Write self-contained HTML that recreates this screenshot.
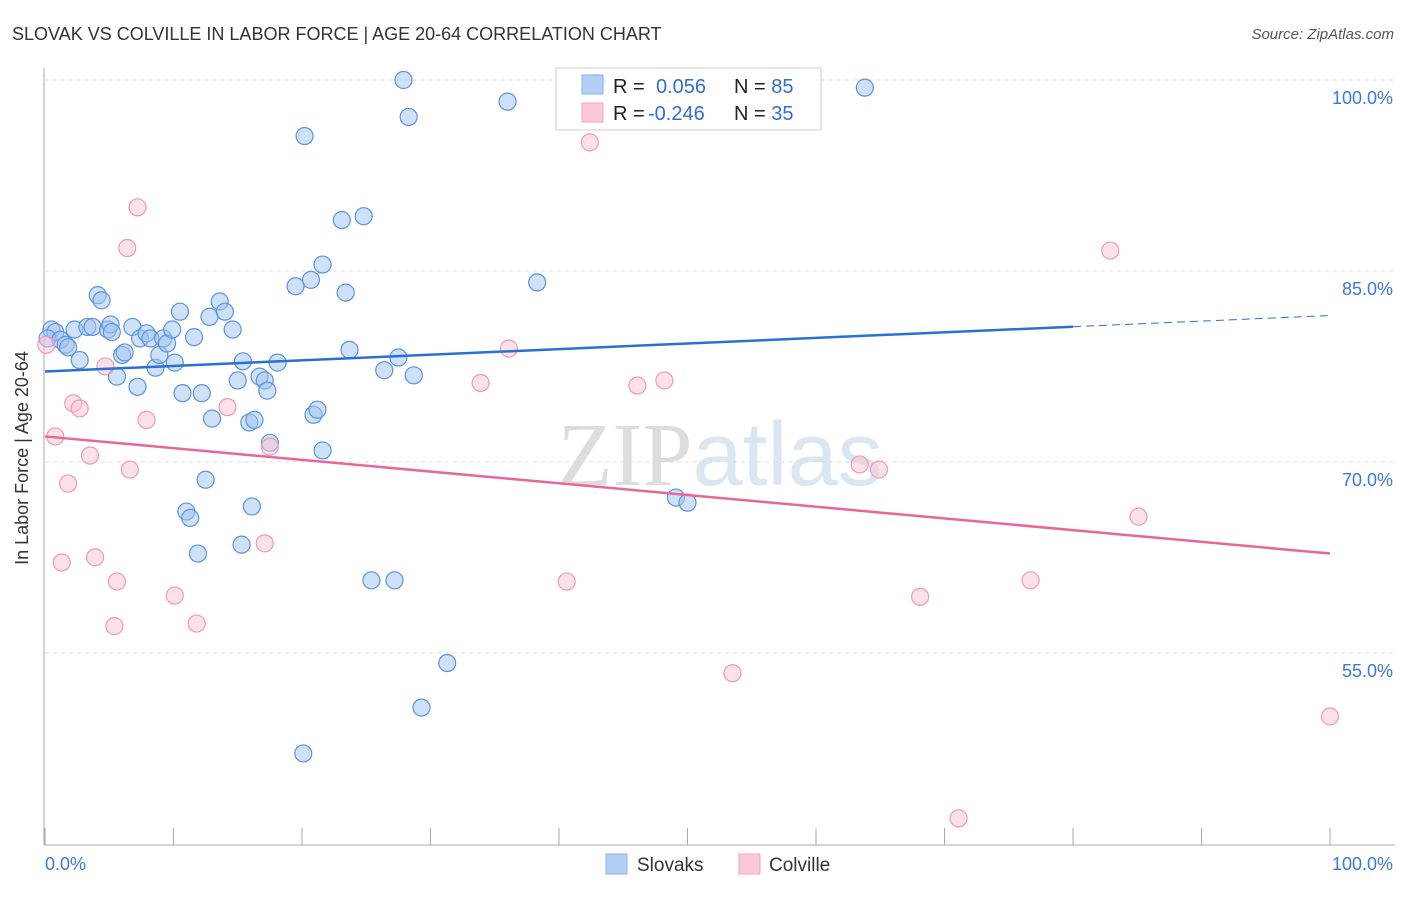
<!DOCTYPE html>
<html><head><meta charset="utf-8"><style>
body{margin:0;background:#fff;font-family:"Liberation Sans",sans-serif;}
svg text{font-family:"Liberation Sans",sans-serif;}
</style></head><body>
<svg id="chart" width="1406" height="892" xmlns="http://www.w3.org/2000/svg">
<text x="12" y="40" font-size="18" fill="#333">SLOVAK VS COLVILLE IN LABOR FORCE | AGE 20-64 CORRELATION CHART</text>
<text x="1394" y="39" font-size="15" fill="#555" font-style="italic" text-anchor="end">Source: ZipAtlas.com</text>
<text x="720" y="485" font-size="90" fill="#e4e4e4" text-anchor="middle"><tspan font-family="Liberation Serif" fill="#ddd">ZIP</tspan><tspan fill="#dbe6f3">atlas</tspan></text>
<g id="grid"></g>
<g id="axes"></g>
<g id="pts"></g>
<g id="trend"></g>
<text x="28" y="458" font-size="18" fill="#333" text-anchor="middle" transform="rotate(-90 28 458)">In Labor Force | Age 20-64</text>
<g>
<rect x="556" y="68" width="265" height="62" fill="#fff" fill-opacity="0.85" stroke="#ccc"/>
<rect x="582" y="75" width="21" height="19" fill="#b3cff5" stroke="#8ab2ea"/>
<rect x="582" y="103" width="21" height="19" fill="#fbc8d8" stroke="#f2a6bf"/>
<text x="613" y="93" font-size="20" fill="#222">R = <tspan x="656" fill="#2f6fd0">0.056</tspan></text>
<text x="734" y="93" font-size="20" fill="#222">N = <tspan fill="#2f6fd0">85</tspan></text>
<text x="613" y="120" font-size="20" fill="#222">R = <tspan x="648" fill="#2f6fd0">-0.246</tspan></text>
<text x="734" y="120" font-size="20" fill="#222">N = <tspan fill="#2f6fd0">35</tspan></text>
</g>
<g>
<rect x="606" y="854" width="21" height="20" fill="#b3cff5" stroke="#8ab2ea"/>
<text x="637" y="871" font-size="19" fill="#333">Slovaks</text>
<rect x="739" y="854" width="21" height="20" fill="#fbc8d8" stroke="#f2a6bf"/>
<text x="769" y="871" font-size="19" fill="#333">Colville</text>
</g>
</svg>
<script>
const blueX=[0.5,0.8,0.2,1.2,1.6,1.8,2.3,2.7,3.3,3.7,4.1,4.4,4.9,5.1,5.2,5.6,6.0,6.2,6.8,7.2,7.4,7.9,8.2,8.6,8.9,9.2,9.5,9.9,10.1,10.5,10.7,11.0,11.3,11.6,11.9,12.2,12.5,12.8,13.0,13.6,14.0,14.6,15.0,15.3,15.4,15.9,16.1,16.3,16.7,17.1,17.3,17.5,18.1,19.5,20.2,20.7,20.9,21.2,21.6,21.6,23.1,23.4,23.7,24.8,25.4,26.4,27.2,27.5,27.9,28.3,28.7,29.3,31.3,36.0,38.3,42.9,49.1,50.0,63.8,20.1];
const blueY=[80.4,80.2,79.7,79.6,79.2,79.0,80.4,78.0,80.6,80.6,83.1,82.7,80.4,80.8,80.2,76.7,78.4,78.6,80.6,75.9,79.7,80.1,79.7,77.4,78.4,79.7,79.3,80.4,77.8,81.8,75.4,66.1,65.6,79.8,62.8,75.4,68.6,81.4,73.4,82.6,81.8,80.4,76.4,63.5,77.9,73.1,66.5,73.3,76.7,76.4,75.6,71.5,77.8,83.8,95.6,84.3,73.7,74.1,70.9,85.5,89.0,83.3,78.8,89.3,60.7,77.2,60.7,78.2,100.0,97.1,76.8,50.7,54.2,98.3,84.1,99.8,67.2,66.8,99.4,47.1];
const pinkX=[0.1,0.8,1.3,1.8,2.2,2.7,3.5,3.9,4.7,5.4,5.6,6.4,6.6,7.2,7.9,10.1,11.8,14.2,17.1,17.5,33.9,36.1,40.6,42.4,46.1,48.2,53.5,63.4,64.9,68.1,71.1,76.7,82.9,85.1,100];
const pinkY=[79.2,72.0,62.1,68.3,74.6,74.2,70.5,62.5,77.5,57.1,60.6,86.8,69.4,90.0,73.3,59.5,57.3,74.3,63.6,71.2,76.2,78.9,60.6,95.1,76.0,76.4,53.4,69.8,69.4,59.4,42.0,60.7,86.6,65.7,50.0];
const yTicks=[100,85,70,55];
const yTickLabels=["100.0%","85.0%","70.0%","55.0%"];
const xTicks=[0,10,20,30,40,50,60,70,80,90,100];
const blueTrend=[77.1,81.5];
const pinkTrend=[72.0,62.8];
const NS="http://www.w3.org/2000/svg";
const sx=v=>45+v*12.85;
const sy=v=>80+(100-v)*12.73;
function mk(tag,attrs,parent){const e=document.createElementNS(NS,tag);for(const k in attrs)e.setAttribute(k,attrs[k]);parent.appendChild(e);return e;}
const grid=document.getElementById('grid'),axes=document.getElementById('axes'),pts=document.getElementById('pts'),trend=document.getElementById('trend');
yTicks.forEach((t,i)=>{
 const l=mk('line',{x1:45,x2:1395,y1:sy(t),y2:sy(t),stroke:'#ddd','stroke-dasharray':'4,4'},grid);
 
 
 const tx=mk('text',{x:1393,y:sy(t)+24,'font-size':18,fill:'#3b78d8','text-anchor':'end'},grid);
 tx.textContent=yTickLabels[i];
 
 
});
const ax=mk('line',{x1:44,x2:44,y1:68,y2:845,stroke:'#aaa'},axes);


const bx=mk('line',{x1:44,x2:1395,y1:845,y2:845,stroke:'#aaa'},axes);


xTicks.forEach(t=>{
 const l=mk('line',{x1:sx(t),x2:sx(t),y1:828,y2:845,stroke:'#aaa'},axes);
 
 
});
const xl0=mk('text',{x:45,y:870,'font-size':18,fill:'#3b78d8'},axes);xl0.textContent='0.0%';


const xl1=mk('text',{x:1393,y:870,'font-size':18,fill:'#3b78d8','text-anchor':'end'},axes);xl1.textContent='100.0%';


blueX.forEach((x,i)=>{
 const c=mk('circle',{cx:sx(x),cy:sy(blueY[i]),r:8.5,fill:'rgba(160,196,240,0.5)',stroke:'#5b93e0','stroke-width':1.2},pts);
 
 
});
pinkX.forEach((x,i)=>{
 const c=mk('circle',{cx:sx(x),cy:sy(pinkY[i]),r:8.5,fill:'rgba(250,195,212,0.5)',stroke:'#ee9ab5','stroke-width':1.2},pts);
 
 
});
const bAt=x=>blueTrend[0]+(blueTrend[1]-blueTrend[0])*x/100;
const t1=mk('line',{x1:sx(0),y1:sy(bAt(0)),x2:sx(80),y2:sy(bAt(80)),stroke:'#2a6fd6','stroke-width':2.5},trend);


const t2=mk('line',{x1:sx(80),y1:sy(bAt(80)),x2:sx(100),y2:sy(bAt(100)),stroke:'#2a6fd6','stroke-width':1,'stroke-dasharray':'8,5'},trend);


const t3=mk('line',{x1:sx(0),y1:sy(pinkTrend[0]),x2:sx(100),y2:sy(pinkTrend[1]),stroke:'#e8669a','stroke-width':2.5},trend);


</script>
</body></html>
